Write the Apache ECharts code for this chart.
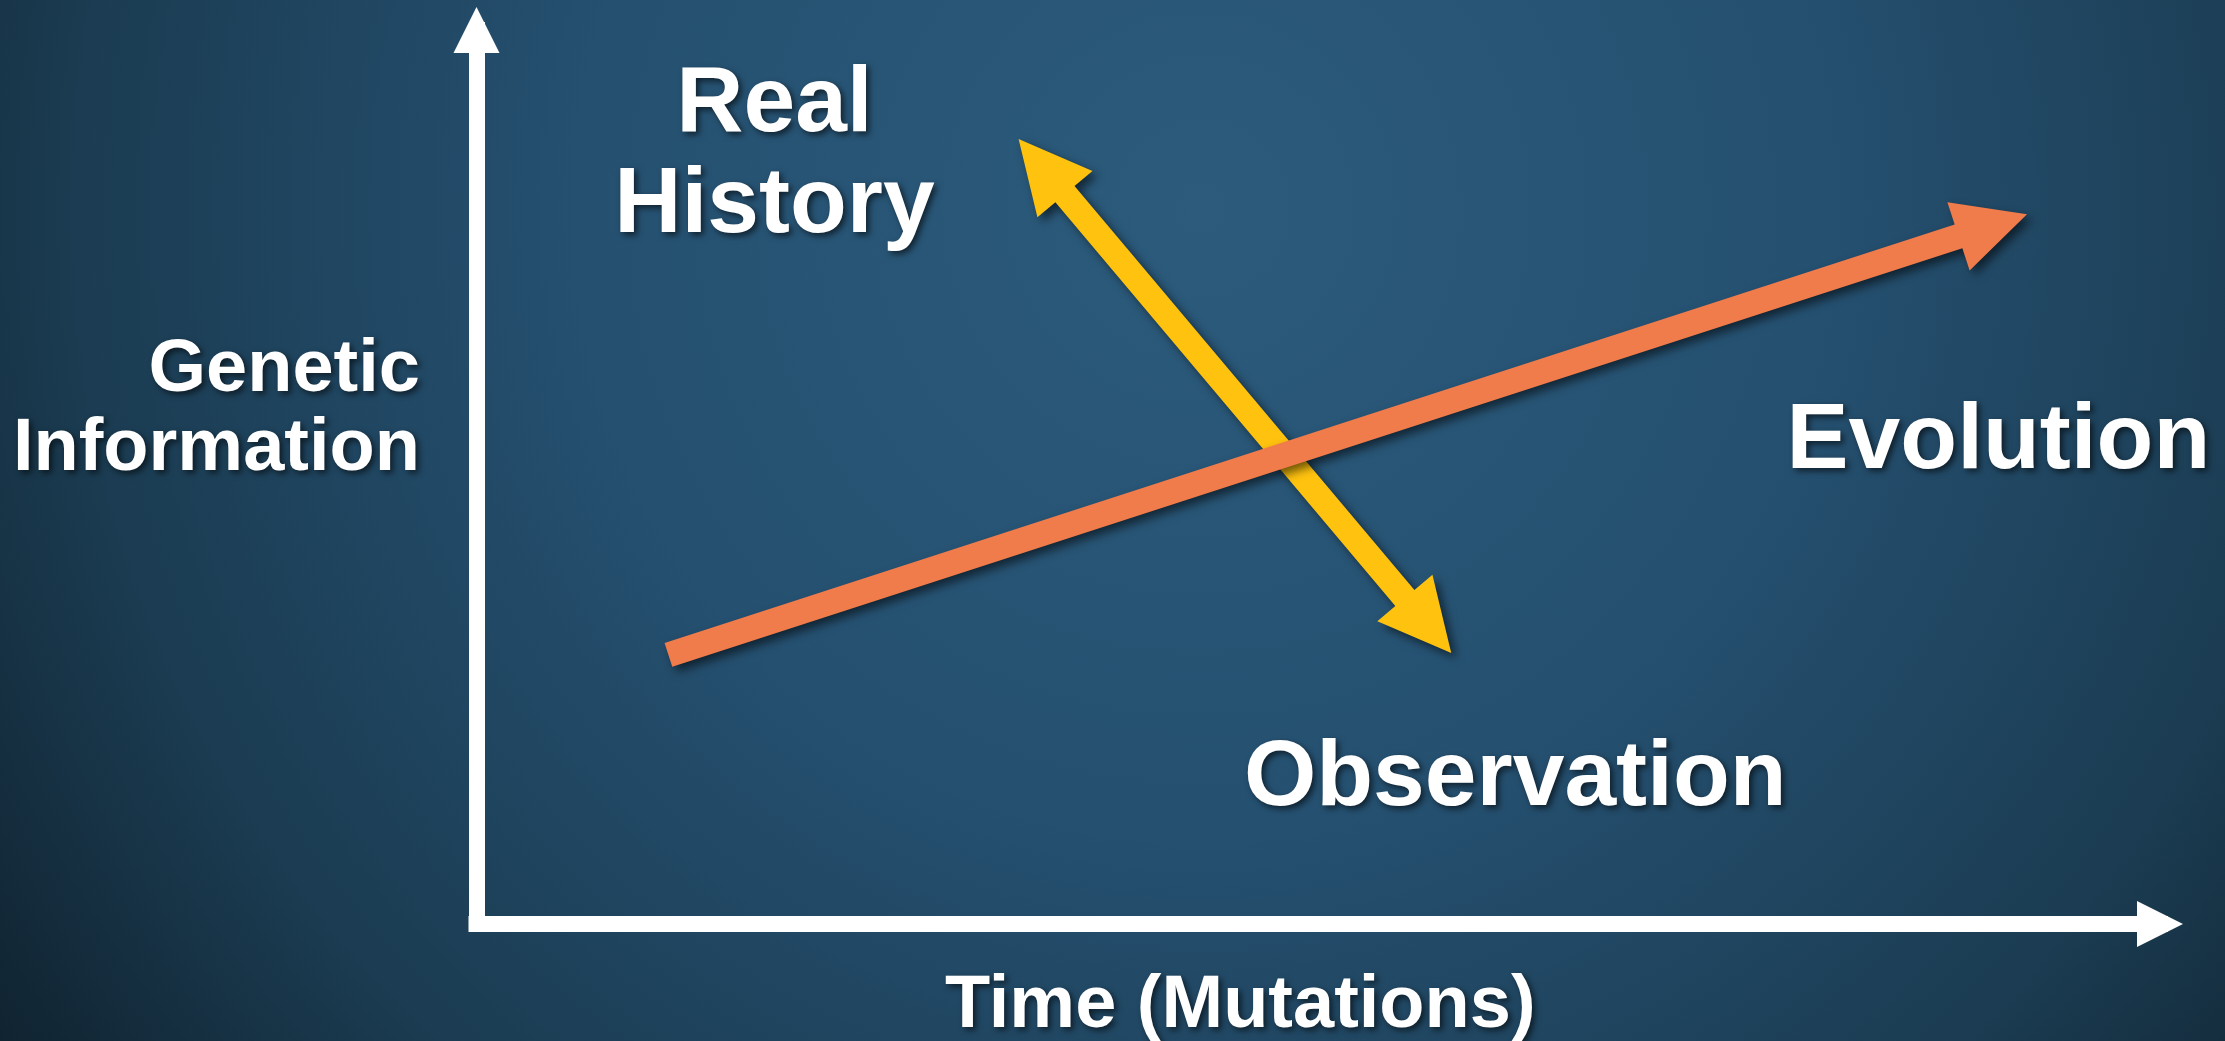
<!DOCTYPE html>
<html>
<head>
<meta charset="utf-8">
<script src="https://cdn.jsdelivr.net/npm/echarts@6/dist/echarts.min.js"></script>
<style>
html, body { margin: 0; padding: 0; }
#main { width: 2225px; height: 1041px; }
</style>
</head>
<body>
<div id="main"></div>
<script>
// 数据: 两条箭头 (起点 -> 终点, 坐标轴 0..100)
var arrowNames = ['Observation / Real History', 'Evolution']
var arrowFrom = [[57.9, 30.3], [11.4, 30.1]]
var arrowTo = [[32.2, 87.8], [92.1, 79.4]]
var arrowBoth = [1, 0]

// 文字标签
var labelTexts = ['Real\nHistory', 'Evolution', 'Observation']
var labelAt = [[17.7, 85.9], [90.4, 53.9], [61.7, 16.2]]

// 坐标轴标题
var xName = 'Time (Mutations)'
var yName = 'Genetic\nInformation'
var yNameAt = [-3.36, 57.5]

var font = '"Liberation Sans", Arial, sans-serif'
var arrowColors = ['#fec20f', '#f07b4b']

var element = document.querySelector('#main')
var chart = echarts.init(element)

var arrowData = arrowFrom.map((p, i) => [p[0], p[1], arrowTo[i][0], arrowTo[i][1], arrowBoth[i]])
var labelData = labelAt.map((p, i) => ({ value: p, label: { formatter: labelTexts[i] } }))
labelData.push({
    value: yNameAt,
    label: { formatter: yName, fontSize: 74, lineHeight: 79, align: 'right' },
})

// 画箭头: 杆 + 一个或两个三角形头
var renderArrow = (params, api) => {
    var a = api.coord([api.value(0), api.value(1)])
    var b = api.coord([api.value(2), api.value(3)])
    var both = api.value(4) === 1
    var dx = b[0] - a[0]
    var dy = b[1] - a[1]
    var len = Math.sqrt(dx * dx + dy * dy)
    var ux = dx / len, uy = dy / len
    var nx = -uy, ny = ux
    var head = 72, hw = 36, w = 12.5
    var pt = (p, s, t) => [p[0] + ux * s + nx * t, p[1] + uy * s + ny * t]
    var pts = []
    if (both) {
        pts.push(a, pt(a, head, hw), pt(a, head, w))
    } else {
        pts.push(pt(a, 0, w))
    }
    pts.push(pt(b, -head, w), pt(b, -head, hw), b, pt(b, -head, -hw), pt(b, -head, -w))
    if (both) {
        pts.push(pt(a, head, -w), pt(a, head, -hw))
    } else {
        pts.push(pt(a, 0, -w))
    }
    return {
        type: 'polygon',
        shape: { points: pts },
        style: {
            fill: arrowColors[params.dataIndex],
            shadowBlur: 10,
            shadowColor: 'rgba(0, 0, 0, 0.55)',
            shadowOffsetX: 5,
            shadowOffsetY: 5,
        },
    }
}

var axisLine = {
    show: true,
    symbol: ['none', 'triangle'],
    symbolSize: [46, 46],
    lineStyle: { color: '#ffffff', width: 16, cap: 'square' },
}

var textShadow = {
    textShadowColor: 'rgba(0, 0, 0, 0.6)',
    textShadowBlur: 6,
    textShadowOffsetX: 3,
    textShadowOffsetY: 3,
}

chart.setOption({
    backgroundColor: {
        type: 'radial',
        x: 0.54,
        y: 0.2,
        r: 1.5,
        colorStops: [
            { offset: 0, color: '#2c5b7c' },
            { offset: 0.4, color: '#255070' },
            { offset: 0.72, color: '#1b3c52' },
            { offset: 1, color: '#0d1c27' },
        ],
    },
    animation: false,
    grid: {
        left: 476.5,
        top: 30,
        right: 65,
        bottom: 117,
        containLabel: false,
        outerBoundsMode: 'none',
    },
    xAxis: {
        type: 'value',
        min: 0,
        max: 100,
        splitLine: { show: false },
        axisTick: { show: false },
        axisLabel: { show: false },
        axisLine: axisLine,
        name: xName,
        nameLocation: 'middle',
        nameGap: 83,
        nameTextStyle: Object.assign({
            color: '#ffffff',
            fontFamily: font,
            fontWeight: 'bold',
            fontSize: 74,
            verticalAlign: 'middle',
            padding: [0, 156, 0, 0],
        }, textShadow),
    },
    yAxis: {
        type: 'value',
        min: 0,
        max: 100,
        splitLine: { show: false },
        axisTick: { show: false },
        axisLabel: { show: false },
        axisLine: axisLine,
    },
    series: [
        {
            name: 'arrows',
            type: 'custom',
            coordinateSystem: 'cartesian2d',
            renderItem: renderArrow,
            encode: { x: [0, 2], y: [1, 3] },
            data: arrowData,
            silent: true,
        },
        {
            name: 'labels',
            type: 'scatter',
            symbolSize: 1,
            clip: false,
            itemStyle: { color: 'rgba(0, 0, 0, 0)', opacity: 1 },
            silent: true,
            label: Object.assign({
                show: true,
                position: 'inside',
                color: '#ffffff',
                fontFamily: font,
                fontWeight: 'bold',
                fontSize: 93,
                lineHeight: 101,
                align: 'center',
                verticalAlign: 'middle',
            }, textShadow),
            data: labelData,
        },
    ],
})
</script>
</body>
</html>
